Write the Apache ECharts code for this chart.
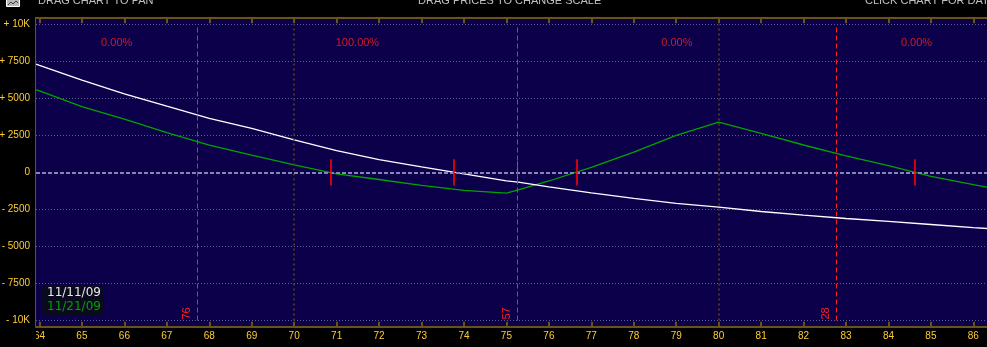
<!DOCTYPE html>
<html><head><meta charset="utf-8">
<script src="https://cdn.jsdelivr.net/npm/echarts@6/dist/echarts.min.js"></script>
<style>html,body{margin:0;padding:0;background:#000;}#c{width:987px;height:347px;}</style>
</head><body><div id="c"></div>
<script>
// ---------- data ----------
const xTicks = [64,65,66,67,68,69,70,71,72,73,74,75,76,77,78,79,80,81,82,83,84,85,86];
const yTicks = [-10000,-7500,-5000,-2500,0,2500,5000,7500,10000];
const yTickLabels = ['- 10K','- 7500','- 5000','- 2500','0','+ 2500','+ 5000','+ 7500','+ 10K'];
const seriesNames = ['11/11/09','11/21/09'];
const priceX     = [63.92,64,65,66,67,68,69,70,71,72,73,74,75,75.28,76,77,78,79,80,81,82,83,84,85,86,86.32];
const pl111109   = [7325,7244,6243,5318,4480,3662,2987,2210,1473,872,385,-88,-561,-649,-966,-1372,-1750,-2088,-2338,-2635,-2885,-3108,-3304,-3514,-3723,-3784];
const pl112109   = [5588,5520,4453,3608,2696,1845,1176,520,-90,-473,-865,-1203,-1392,-1169,-574,345,1372,2507,3405,2642,1858,1122,470,-260,-818,-987];
const expiryX    = [67.72,75.26,82.77];
const expiryDays = ['76','57','28'];
const regionBounds = [63.918,67.72,75.26,82.77,86.55];
const regionProb   = ['0.00%','100.00%','0.00%','0.00%'];
const breakevenX = [70.85,73.75,76.65,84.61];
const gridMarksX = [70,80];
const currentPriceX = [75.26];
const headerTexts = ['DRAG CHART TO PAN','DRAG PRICES TO CHANGE SCALE','CLICK CHART FOR DATA'];

// ---------- layout / style constants ----------
const X_MIN = 63.918, X_MAX = 86.321;
const LABEL_Y = 8744;
const BE_LOW = -880, BE_HIGH = 900;
const CP_LOW = -608, CP_HIGH = 743;
const brown = '#6b5216', yellow = '#ffcc33', navy = '#0b0049';

const chart = echarts.init(document.getElementById('c'), null, {renderer:'canvas'});
const regionCenters = regionProb.map((_, i) => (regionBounds[i] + regionBounds[i+1]) / 2);

const option = {
  backgroundColor: '#000',
  animation: false,
  grid: {left: 36, right: 0, top: 24.5, bottom: 26.5, containLabel: false, outerBoundsMode: 'none'},
  legend: {
    data: seriesNames.map((n, i) => ({name: n, textStyle: {color: i ? '#00a000' : '#e8e8e8'}})),
    orient: 'vertical', left: 42, top: 285, itemWidth: 0, itemHeight: 0, itemGap: 2, icon: 'rect',
    padding: [2, 3, 2, 0], backgroundColor: '#0a0a1e', borderRadius: 4, selectedMode: false,
    textStyle: {fontFamily: 'DejaVu Sans', fontSize: 12}
  },
  xAxis: [
    {type: 'value', min: X_MIN, max: X_MAX, position: 'bottom', offset: 6.3,
     axisLine: {show: true, onZero: false, lineStyle: {color: brown, width: 2}},
     axisTick: {show: true, inside: true, length: 5, customValues: xTicks, lineStyle: {color: brown, width: 2}},
     axisLabel: {show: true, customValues: xTicks, color: yellow, fontFamily: 'Liberation Sans', fontSize: 10, margin: 4, formatter: v => String(v)},
     splitLine: {show: false}},
    {type: 'value', min: X_MIN, max: X_MAX, position: 'top', offset: 6.3,
     axisLine: {show: true, onZero: false, lineStyle: {color: brown, width: 2}},
     axisTick: {show: true, inside: true, length: 5, customValues: xTicks, lineStyle: {color: brown, width: 2}},
     axisLabel: {show: false}, splitLine: {show: false}}
  ],
  yAxis: {type: 'value', min: -10000, max: 10000, interval: 2500,
    axisLine: {show: false}, axisTick: {show: false},
    axisLabel: {color: yellow, fontFamily: 'Liberation Sans', fontSize: 10, margin: 6,
      formatter: v => yTickLabels[yTicks.indexOf(v)]},
    splitLine: {show: true, lineStyle: {color: '#5a5a8c', type: [1, 2], width: 1}}},
  series: [
    {name: 'gridmarks', type: 'line', data: [], z: 1, silent: true,
     markLine: {silent: true, symbol: ['none', 'none'], label: {show: false}, animation: false,
       data: [
         ...gridMarksX.map(v => ({xAxis: v, lineStyle: {color: '#5e4420', width: 1.5, type: [2, 3]}})),
         {yAxis: 0, lineStyle: {color: '#8484b8', width: 2, type: [4, 2]}}
       ]}},
    {name: seriesNames[1], type: 'line', data: priceX.map((x, i) => [x, pl112109[i]]), symbol: 'none', z: 3, silent: true,
     lineStyle: {color: '#00a400', width: 1.3}, itemStyle: {color: '#00a400'}},
    {name: seriesNames[0], type: 'line', data: priceX.map((x, i) => [x, pl111109[i]]), symbol: 'none', z: 4, silent: true,
     lineStyle: {color: '#ffffff', width: 1.3}, itemStyle: {color: '#ffffff'}},
    {name: 'current', type: 'line', data: [], z: 5, silent: true,
     markLine: {silent: true, symbol: ['none', 'none'], label: {show: false}, animation: false,
       lineStyle: {color: '#7c7c5c', width: 1, type: 'solid'},
       data: currentPriceX.map(v => [{coord: [v, CP_LOW]}, {coord: [v, CP_HIGH]}])}},
    {name: 'expiry', type: 'line', data: [], z: 6, silent: true,
     markLine: {silent: true, symbol: ['none', 'none'], animation: false,
       lineStyle: {color: '#ff2020', width: 1, type: [5, 3]},
       label: {show: true, position: 'insideStartTop', formatter: '{b}', color: '#ff2020',
         fontFamily: 'Liberation Sans', fontSize: 11, distance: [1, 5]},
       data: expiryX.map((v, i) => [{coord: [v, -10000], name: expiryDays[i]}, {coord: [v, 10000]}])}},
    {name: 'breakeven', type: 'line', data: [], z: 7, silent: true,
     markLine: {silent: true, symbol: ['none', 'none'], label: {show: false}, animation: false,
       lineStyle: {color: '#ff0000', width: 1.6, type: 'solid'},
       data: breakevenX.map(v => [{coord: [v, BE_LOW]}, {coord: [v, BE_HIGH]}])}},
    {name: 'prob', type: 'scatter', z: 8, silent: true, symbolSize: 0,
     data: regionCenters.map((c, i) => ({value: [c, LABEL_Y], name: regionProb[i]})),
     label: {show: true, position: 'inside', formatter: p => p.name, color: '#ff2020',
       fontFamily: 'Liberation Sans', fontSize: 11}}
  ],
  graphic: [
    {type: 'rect', z: -10, silent: true, shape: {x: 36, y: 18, width: 951, height: 308}, style: {fill: navy}},
    {type: 'line', z: 10, silent: true, shape: {x1: 35.5, y1: 17, x2: 35.5, y2: 327}, style: {stroke: brown, lineWidth: 1}},
    {type: 'rect', z: 100, silent: true, shape: {x: 0, y: 328, width: 36, height: 19}, style: {fill: '#000'}},
    {type: 'rect', z: 100, silent: true, shape: {x: 6.5, y: -6.5, width: 13, height: 13}, style: {fill: '#b8b8b8', stroke: '#ffffff', lineWidth: 1}},
    {type: 'polyline', z: 101, silent: true, shape: {points: [[8, 5], [11, 2], [13, 4], [16, 1], [18, 3]]}, style: {stroke: '#404040', lineWidth: 1, fill: null}},
    {type: 'text', z: 100, silent: true, x: 38, y: -5, style: {text: headerTexts[0], fill: '#c0c0c0', font: '11px "Liberation Sans"', textAlign: 'left', textVerticalAlign: 'top'}},
    {type: 'text', z: 100, silent: true, x: 509.7, y: -5, style: {text: headerTexts[1], fill: '#c0c0c0', font: '11px "Liberation Sans"', textAlign: 'center', textVerticalAlign: 'top'}},
    {type: 'text', z: 100, silent: true, x: 865, y: -5, style: {text: headerTexts[2], fill: '#c0c0c0', font: '11px "Liberation Sans"', textAlign: 'left', textVerticalAlign: 'top'}}
  ]
};
chart.setOption(option);
</script></body></html>
